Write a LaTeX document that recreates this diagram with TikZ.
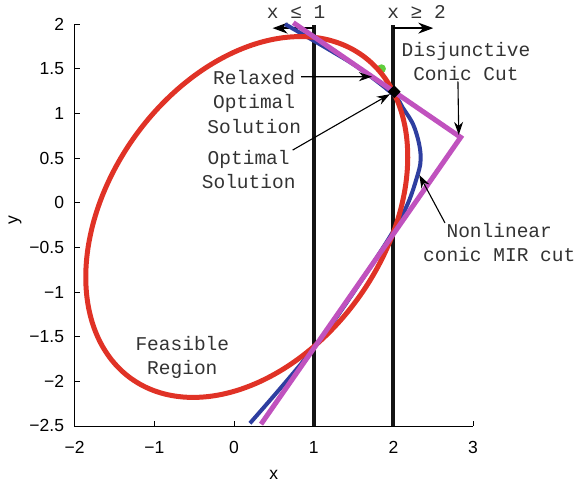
\documentclass[tikz,border=0pt]{standalone}
\usepackage{fontspec}
\setmainfont{Liberation Sans}
\newfontfamily\monofont{Liberation Mono}
\usetikzlibrary{arrows.meta,shapes.geometric}
\definecolor{feasred}{RGB}{224,50,38}
\definecolor{mirblue}{RGB}{46,62,160}
\definecolor{cutmag}{RGB}{192,82,190}
\definecolor{relgreen}{RGB}{96,206,62}
\begin{document}
\begin{tikzpicture}[x=79.7pt, y=89.3pt, >={Stealth[length=15pt,width=11pt]},
  lbl/.style={font=\monofont\fontsize{19.5}{24.5}\selectfont, text=black!80, align=center, inner sep=0pt},
  tick/.style={font=\fontsize{17.5}{20}\selectfont, inner sep=0pt},
  note/.style={->, line width=1.1pt, >={Stealth[length=13pt,width=9pt]}}]
\useasboundingbox (-2.936,-3.128) rectangle (4.404,2.270);
% axes
\draw[line width=0.8pt] (-2,2) -- (-2,-2.5) -- (3,-2.5);
\foreach \v/\t [count=\n] in {2/2,1.5/1.5,1/1,0.5/0.5,0/0,-0.5/−0.5,-1/−1,-1.5/−1.5,-2/−2,-2.5/−2.5} {
  \draw[line width=0.8pt] (-2,\v) -- ++(5pt,0);
  \node[tick, anchor=east] (yt\n) at (-2.13,\v) {\t};
}
\foreach \v/\t [count=\n] in {-2/−2,-1/−1,0/0,1/1,2/2,3/3} {
  \draw[line width=0.8pt] (\v,-2.5) -- ++(0,5pt);
  \node[tick] (xt\n) at (\v,-2.736) {\t};
}
\node[tick] (xl) at (0.5,-3.044) {x};
\node[tick, rotate=90] (yl) at (-2.748,-0.194) {y};
% branching bounds
\draw[line width=4pt, black!92] (1,-2.5) -- (1,1.99);
\draw[line width=4pt, black!92] (2,-2.5) -- (2,1.99);
\coordinate (l0) at (1,1.955);
\coordinate (l1) at (0.485,1.955);
\coordinate (r0) at (2,1.955);
\coordinate (r1) at (2.50,1.955);
\draw[->, line width=1.3pt] (l0) -- (l1);
\draw[->, line width=1.3pt] (r0) -- (r1);
\node[lbl] (le) at (0.78,2.139) {x ≤ 1};
\node[lbl] (ge) at (2.29,2.139) {x ≥ 2};
% curves
\fill[relgreen] (1.85,1.50) circle (4.5pt);
\draw[mirblue, line width=4pt] plot[smooth, tension=0.6] coordinates {(0.20,-2.47) (1.0,-1.63) (1.6,-0.87) (2.1,-0.16) (2.30,0.30) (2.34,0.55) (2.26,0.85) (2.12,1.06) (2.0,1.21) (1.58,1.50) (1.2,1.71) (0.64,2.0)};
\draw[feasred, line width=5pt] plot[domain=0:360, samples=160, smooth] ({0.16+2.02*cos(\x)}, {-0.16+0.673*cos(\x)+1.905*sin(\x)}) -- cycle;
\draw[cutmag, line width=5pt] (0.744,2.016) -- (2.844,0.732) -- (0.339,-2.48);
\node[diamond, fill=black, inner sep=0pt, minimum size=13pt] (opt) at (2.01,1.243) {};
% annotations
\node[lbl] (rl) at (0.253,1.131) {Relaxed\\Optimal\\Solution};
\node[lbl] (os) at (0.184,0.37) {Optimal\\Solution};
\node[lbl] (dj) at (2.91,1.579) {Disjunctive\\Conic Cut};
\node[lbl] (mr) at (3.328,-0.446) {Nonlinear\\conic MIR cut};
\node[lbl] (fr) at (-0.648,-1.733) {Feasible\\Region};
\coordinate (rt) at (1.73,1.411);
\coordinate (vt) at (2.82,0.76);
\coordinate (mt) at (2.325,0.31);
\draw[note] ([yshift=25pt]rl.east) -- (rt);
\draw[note] ([xshift=-3pt]os.north east) -- (opt);
\draw[note] ([xshift=-8pt]dj.south) -- (vt);
\draw[note] ([xshift=22pt]mr.north west) -- (mt);
\end{tikzpicture}
\end{document}
